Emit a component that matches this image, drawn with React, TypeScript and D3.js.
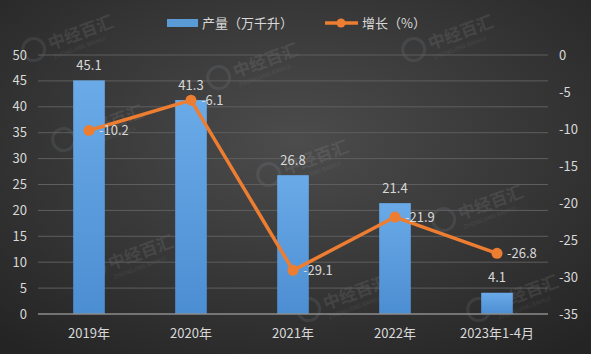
import React from "react";
import * as d3 from "d3";

const categories = ["2019年", "2020年", "2021年", "2022年", "2023年1-4月"];
const production = [45.1, 41.3, 26.8, 21.4, 4.1];
const growth = [-10.2, -6.1, -29.1, -21.9, -26.8];
const leftTicks = [0, 5, 10, 15, 20, 25, 30, 35, 40, 45, 50];
const rightTicks = [0, -5, -10, -15, -20, -25, -30, -35];
const seriesNames = ["产量（万千升）", "增长（%）"];

const W = 591;
const H = 354;
const FONT = "'Noto Sans CJK SC', 'Noto Sans', sans-serif";
const TEXT = "#d9d9d9";
const BLUE = "#5b9bd5";
const ORANGE = "#ed7d31";

const watermarks: [number, number][] = [
  [60, 40], [245, 68], [440, 40], [90, 130], [295, 165], [470, 210],
  [120, 260], [335, 300], [505, 300],
];

export default function App() {
  const left = 38, right = 548, top = 55, bottom = 314;
  const x = d3.scaleBand<string>().domain(categories).range([left, right]).paddingInner(0.69).paddingOuter(0.345);
  const yL = d3.scaleLinear().domain([0, 50]).range([bottom, top]);
  const yR = d3.scaleLinear().domain([-35, 0]).range([bottom, top]);
  const cx = (c: string) => (x(c) as number) + x.bandwidth() / 2;
  const line = d3.line<number>().x((_, i) => cx(categories[i])).y((d) => yR(d));

  return (
    <svg width={W} height={H} style={{ position: "absolute", left: 0, top: 0, fontFamily: FONT }}>
      <defs>
        <radialGradient id="bg" cx="50%" cy="40%" r="75%">
          <stop offset="0%" stopColor="#4c4c4c" />
          <stop offset="100%" stopColor="#242424" />
        </radialGradient>
        <linearGradient id="bar" x1="0" y1="0" x2="0" y2="1">
          <stop offset="0%" stopColor="#6aaae8" />
          <stop offset="100%" stopColor="#4c8ed2" />
        </linearGradient>
      </defs>
      <rect x={0} y={0} width={W} height={H} fill="url(#bg)" />
      {watermarks.map(([wx, wy], i) => (
        <g key={i} transform={`translate(${wx},${wy}) rotate(-20)`} opacity={0.12}>
          <circle cx={-28} cy={0} r={11} fill="none" stroke="#9ab" strokeWidth={3} />
          <text x={-12} y={6} fontSize={17} fill="#bbb" fontWeight="bold">中经百汇</text>
          <text x={-12} y={16} fontSize={6} fill="#bbb">ZHONGJING BAIHUI</text>
        </g>
      ))}
      {leftTicks.filter((t) => t > 0).map((t) => (
        <line key={t} x1={left} x2={right} y1={yL(t)} y2={yL(t)} stroke="#5e5e5e" strokeWidth={1} />
      ))}
      {production.map((v, i) => (
        <rect key={i} x={x(categories[i])} y={yL(v)} width={x.bandwidth()} height={bottom - yL(v)} fill="url(#bar)" />
      ))}
      <line x1={left} x2={right} y1={bottom} y2={bottom} stroke="#8c8c8c" strokeWidth={1.5} />
      {leftTicks.map((t) => (
        <text key={t} x={27} y={yL(t)} dy="0.35em" textAnchor="end" fontSize={13} fill={TEXT}>{t}</text>
      ))}
      {rightTicks.map((t) => (
        <text key={t} x={559} y={yR(t)} dy="0.35em" textAnchor="start" fontSize={13} fill={TEXT}>{t}</text>
      ))}
      {categories.map((c) => (
        <text key={c} x={cx(c)} y={333} dy="0.35em" textAnchor="middle" fontSize={13} fill={TEXT}>{c}</text>
      ))}
      {production.map((v, i) => (
        <text key={i} x={cx(categories[i])} y={yL(v) - 15} dy="0.35em" textAnchor="middle" fontSize={13} fill={TEXT}>{v.toFixed(1)}</text>
      ))}
      <path d={line(growth) || ""} fill="none" stroke={ORANGE} strokeWidth={3.5} strokeLinejoin="round" />
      {growth.map((v, i) => (
        <circle key={i} cx={cx(categories[i])} cy={yR(v)} r={5.5} fill={ORANGE} />
      ))}
      {growth.map((v, i) => (
        <text key={i} x={cx(categories[i]) + 10} y={yR(v)} dy="0.35em" textAnchor="start" fontSize={13} fill={TEXT}>{v.toFixed(1)}</text>
      ))}
      <rect x={167} y={19} width={31} height={8} fill={BLUE} />
      <text x={202} y={23} dy="0.35em" fontSize={13} fill={TEXT}>{seriesNames[0]}</text>
      <line x1={325} x2={358} y1={23} y2={23} stroke={ORANGE} strokeWidth={3.5} />
      <circle cx={341} cy={23} r={4.5} fill={ORANGE} />
      <text x={362} y={23} dy="0.35em" fontSize={13} fill={TEXT}>{seriesNames[1]}</text>
    </svg>
  );
}
